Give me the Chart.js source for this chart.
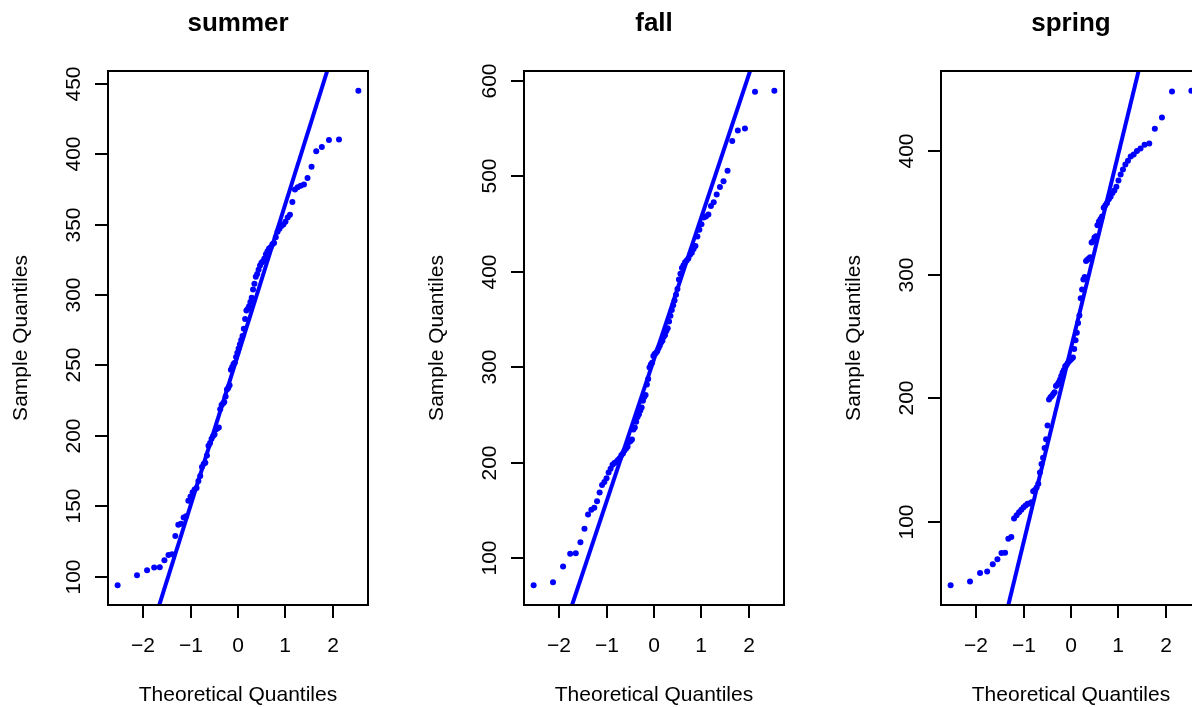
<!DOCTYPE html>
<html>
<head>
<meta charset="utf-8">
<script src="https://cdn.jsdelivr.net/npm/chart.js@4.4.1/dist/chart.umd.min.js"></script>
<style>
    html, body { margin: 0; padding: 0; background: #fff; overflow: hidden; }
    body { width: 1192px; height: 707px; position: relative; }
    canvas { position: absolute; top: 0; }
</style>
</head>
<body>
<canvas id="summerChart" width="416" height="707" style="left:0px"></canvas>
<canvas id="fallChart" width="416" height="707" style="left:416px"></canvas>
<canvas id="springChart" width="416" height="707" style="left:833px"></canvas>
<script>
// Sorted sample values per season
const summerValues = [
    94, 101, 104.7, 106.6, 106.8, 111.8, 115.5, 116, 129, 137,
    137.7, 142, 143, 154, 157, 160, 162, 163, 168, 171.5,
    178, 180, 181, 186, 193, 195, 198, 200, 201, 204.6,
    205.5, 206, 219, 222, 223, 224, 228, 233, 234, 236,
    247, 249, 251, 252, 256, 259, 262, 265, 268, 271,
    276, 283, 289, 290, 292, 295, 298, 304, 308, 313,
    315, 318, 321, 323, 324, 326, 329, 331, 333, 334,
    336, 337, 341, 345, 347, 349, 350, 352, 355, 357,
    366, 375, 376.5, 377.5, 378.5, 383, 391, 402, 405, 410,
    410.5, 445
];
const fallValues = [
    72, 75, 91.6, 105, 105.6, 117, 131, 146, 151, 153,
    160, 169, 177, 180, 184, 190, 194, 198, 200, 201,
    203, 205, 208, 210, 213, 215, 217, 222, 223, 224.5,
    235, 237, 243, 248, 251, 255, 258, 265, 269, 271,
    282, 288, 300, 303, 305, 312, 314, 315, 317, 320,
    323, 326, 328, 332, 334, 338, 341, 348, 354, 360,
    365, 370, 376, 382, 392, 398, 404, 407, 410, 412,
    414, 418, 420, 424, 427, 437, 444, 450, 457, 458,
    460, 469, 473, 481, 489, 495, 506, 537, 548, 550,
    588.5, 589.6
];
const springValues = [
    49, 52, 58.8, 60, 66, 70, 75, 75.2, 86.5, 88,
    103, 105.5, 108, 110, 112, 113.5, 114.8, 115, 116, 125,
    126, 128, 131, 140, 147, 152, 160, 167, 178, 199,
    201, 202, 203.5, 205, 210, 211, 212.8, 215, 218, 221,
    223, 226, 227, 228.5, 230, 231, 232, 233, 240, 247,
    253, 261, 267, 281, 288, 296, 298, 311, 312, 313,
    314, 326, 327, 330, 331, 340, 343, 345, 347, 354,
    356, 358, 361, 363, 366, 368, 371, 376, 381, 385,
    389, 392, 395.5, 397, 400, 402, 405, 406, 418, 427,
    448, 448.6
];

// qqline: [intercept, slope]
const summerLine = [257.7, 106.7];
const fallLine = [308.6, 148.4];
const springLine = [240.7, 156.6];

const xTicks = [-2, -1, 0, 1, 2];
const summerTicks = [100, 150, 200, 250, 300, 350, 400, 450];
const fallTicks = [100, 200, 300, 400, 500, 600];
const springTicks = [100, 200, 300, 400];

const FONT = '"Liberation Sans", Arial, Helvetica, sans-serif';

// Acklam's inverse normal approximation
function qnorm(p) {
    const a = [-3.969683028665376e+01, 2.209460984245205e+02, -2.759285104469687e+02,
               1.383577518672690e+02, -3.066479806614716e+01, 2.506628277459239e+00];
    const b = [-5.447609879822406e+01, 1.615858368580409e+02, -1.556989798598866e+02,
               6.680131188771972e+01, -1.328068155288572e+01];
    const c = [-7.784894002430293e-03, -3.223964580411365e-01, -2.400758277161838e+00,
               -2.549732539343734e+00, 4.374664141464968e+00, 2.938163982698783e+00];
    const d = [7.784695709041462e-03, 3.224671290700398e-01, 2.445134137142996e+00,
               3.754408661907416e+00];
    const pLow = 0.02425;
    if (p < pLow) {
        const q = Math.sqrt(-2 * Math.log(p));
        return (((((c[0]*q + c[1])*q + c[2])*q + c[3])*q + c[4])*q + c[5]) /
               ((((d[0]*q + d[1])*q + d[2])*q + d[3])*q + 1);
    }
    if (p > 1 - pLow) {
        const q = Math.sqrt(-2 * Math.log(1 - p));
        return -(((((c[0]*q + c[1])*q + c[2])*q + c[3])*q + c[4])*q + c[5]) /
                ((((d[0]*q + d[1])*q + d[2])*q + d[3])*q + 1);
    }
    const q = p - 0.5, r = q * q;
    return (((((a[0]*r + a[1])*r + a[2])*r + a[3])*r + a[4])*r + a[5]) * q /
           (((((b[0]*r + b[1])*r + b[2])*r + b[3])*r + b[4])*r + 1);
}

function extendRange(lo, hi) {
    const pad = (hi - lo) * 0.04;
    return [lo - pad, hi + pad];
}

// R-style box, axes and labels
const rAxes = {
    id: 'rAxes',
    afterDraw(chart, args, opts) {
        const { ctx, chartArea: a, scales: { x, y } } = chart;
        const tick = 13;
        ctx.save();
        ctx.strokeStyle = '#000';
        ctx.fillStyle = '#000';
        ctx.lineWidth = 2;
        ctx.strokeRect(a.left, a.top, a.right - a.left, a.bottom - a.top);

        ctx.font = '21px ' + FONT;
        ctx.textAlign = 'center';
        ctx.textBaseline = 'alphabetic';

        opts.xTicks.forEach(v => {
            const px = Math.round(x.getPixelForValue(v));
            ctx.beginPath();
            ctx.moveTo(px, a.bottom);
            ctx.lineTo(px, a.bottom + tick);
            ctx.stroke();
            ctx.fillText(v < 0 ? '\u2212' + Math.abs(v) : String(v), px, a.bottom + 47);
        });

        opts.yTicks.forEach(v => {
            const py = Math.round(y.getPixelForValue(v));
            ctx.beginPath();
            ctx.moveTo(a.left - tick, py);
            ctx.lineTo(a.left, py);
            ctx.stroke();
            ctx.save();
            ctx.translate(a.left - 28, py);
            ctx.rotate(-Math.PI / 2);
            ctx.fillText(String(v), 0, 0);
            ctx.restore();
        });

        const midX = (a.left + a.right) / 2;
        const midY = (a.top + a.bottom) / 2;
        ctx.fillText('Theoretical Quantiles', midX, 701);
        ctx.save();
        ctx.translate(a.left - 81, midY);
        ctx.rotate(-Math.PI / 2);
        ctx.fillText('Sample Quantiles', 0, 0);
        ctx.restore();

        ctx.font = 'bold 26px ' + FONT;
        ctx.fillText(opts.title, midX, 31);
        ctx.restore();
    }
};

function renderQQ(canvasId, title, values, qqLine, yTicks) {
    const n = values.length;
    const theo = values.map((v, i) => qnorm((i + 1 - 0.5) / n));
    const points = values.map((v, i) => ({ x: theo[i], y: v }));
    const xr = extendRange(theo[0], theo[n - 1]);
    const yr = extendRange(values[0], values[n - 1]);
    const lineData = xr.map(q => ({ x: q, y: qqLine[0] + qqLine[1] * q }));

    return new Chart(document.getElementById(canvasId), {
        type: 'scatter',
        data: {
            datasets: [
                {
                    type: 'line',
                    data: lineData,
                    borderColor: '#0000FF',
                    borderWidth: 4,
                    pointRadius: 0,
                    fill: false,
                    clip: 0
                },
                {
                    data: points,
                    backgroundColor: '#0000FF',
                    borderWidth: 0,
                    pointRadius: 3,
                    pointHoverRadius: 3
                }
            ]
        },
        options: {
            responsive: false,
            devicePixelRatio: 1,
            animation: false,
            events: [],
            layout: { padding: { left: 108, right: 48, top: 71, bottom: 102 } },
            scales: {
                x: { type: 'linear', min: xr[0], max: xr[1], display: false },
                y: { type: 'linear', min: yr[0], max: yr[1], display: false }
            },
            plugins: {
                legend: { display: false },
                tooltip: { enabled: false },
                rAxes: { title: title, xTicks: xTicks, yTicks: yTicks }
            }
        },
        plugins: [rAxes]
    });
}

renderQQ('summerChart', 'summer', summerValues, summerLine, summerTicks);
renderQQ('fallChart', 'fall', fallValues, fallLine, fallTicks);
renderQQ('springChart', 'spring', springValues, springLine, springTicks);
</script>
</body>
</html>
